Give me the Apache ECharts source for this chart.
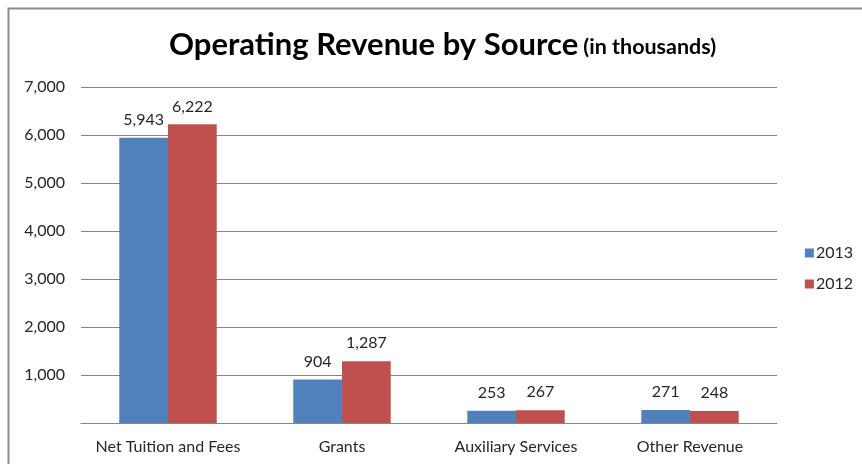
<!DOCTYPE html>
<html><head><meta charset="utf-8">
<script src="https://cdn.jsdelivr.net/npm/echarts@6/dist/echarts.min.js"></script>
<style>html,body{margin:0;padding:0;background:#fff}#c{width:862px;height:464px}</style>
</head><body><div id="c"></div>
<script>
const categories = ['Net Tuition and Fees', 'Grants', 'Auxiliary Services', 'Other Revenue'];
const series2013 = [5943, 904, 253, 271];
const series2012 = [6222, 1287, 267, 248];
const seriesNames = ['2013', '2012'];
const yTicks = [0, 1000, 2000, 3000, 4000, 5000, 6000, 7000];

const fmt = v => v.toLocaleString('en-US');
const chart = echarts.init(document.getElementById('c'), null, {renderer: 'canvas'});
const labelStyle = {show: true, position: 'top', distance: 10, color: '#262626', fontSize: 16, fontFamily: 'Lato', formatter: p => fmt(p.value)};
chart.setOption({
  animation: false,
  backgroundColor: '#fff',
  graphic: [{type: 'rect', shape: {x: 8.5, y: 8.5, width: 900, height: 500}, style: {fill: 'none', stroke: '#8c8c8c', lineWidth: 2}}],
  title: {
    text: '{a|Operating Revenue by Source} {b|(in thousands)}',
    left: 164, top: 24,
    textStyle: {rich: {
      a: {fontSize: 31, fontWeight: 'bold', fontFamily: 'Lato', color: '#000'},
      b: {fontSize: 21.5, fontWeight: 'bold', fontFamily: 'Lato', color: '#000', padding: [6, 0, 0, 0]}
    }}
  },
  legend: {
    orient: 'vertical', right: 4, top: 240, itemWidth: 9, itemHeight: 9, itemGap: 15,
    icon: 'rect', textStyle: {fontSize: 16, fontFamily: 'Lato', color: '#262626', padding: [0, 0, 0, -3]},
    data: seriesNames
  },
  grid: {left: 81, right: 85, top: 87, bottom: 41, containLabel: false},
  xAxis: {
    type: 'category', data: categories,
    axisLine: {lineStyle: {color: '#868686', width: 1}},
    axisTick: {show: false},
    axisLabel: {fontSize: 16, fontFamily: 'Lato', color: '#262626', margin: 16, interval: 0}
  },
  yAxis: {
    type: 'value', min: yTicks[0], max: yTicks[yTicks.length - 1], interval: 1000,
    axisLine: {show: false}, axisTick: {show: false},
    splitLine: {lineStyle: {color: '#868686', width: 1}},
    axisLabel: {fontSize: 16, fontFamily: 'Lato', color: '#262626', margin: 16, formatter: v => v === 0 ? '' : fmt(v)}
  },
  series: [
    {name: seriesNames[0], type: 'bar', data: series2013, itemStyle: {color: '#4F81BD'}, barGap: '0%', barCategoryGap: '44%', label: labelStyle},
    {name: seriesNames[1], type: 'bar', data: series2012, itemStyle: {color: '#C0504D'}, barGap: '0%', barCategoryGap: '44%', label: labelStyle}
  ]
});
</script></body></html>
